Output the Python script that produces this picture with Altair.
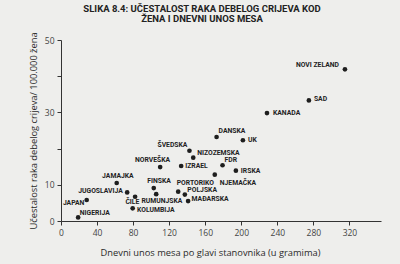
import altair as alt
import pandas as pd

# ---- data ----
countries = ["NOVI ZELAND", "SAD", "KANADA", "DANSKA", "UK", "ŠVEDSKA", "NIZOZEMSKA",
             "NORVEŠKA", "IZRAEL", "FDR", "IRSKA", "NJEMAČKA", "PORTORIKO", "POLJSKA",
             "MAĐARSKA", "FINSKA", "RUMUNJSKA", "KOLUMBIJA", "ČILE", "JUGOSLAVIJA",
             "JAMAJKA", "JAPAN", "NIGERIJA"]
meat = [315, 275, 228.5, 172.6, 201.8, 142.5, 146.7,
        110, 133.3, 179.2, 194, 170.6, 130, 137.4,
        141, 102.9, 105.6, 79.5, 82.2, 73.4,
        61.8, 28.5, 19]
rate = [41.9, 33.3, 29.8, 23.2, 22.3, 19.4, 17.5,
        14.9, 15.2, 15.4, 13.9, 12.8, 8.1, 7.3,
        5.5, 9.1, 7.4, 3.5, 6.7, 7.9,
        10.5, 5.8, 1.0]

x_ticks = [0, 40, 80, 120, 160, 200, 240, 280, 320]
y_ticks = [0, 10, 20, 30, 40, 50]

title_lines = ["SLIKA 8.4: UČESTALOST RAKA DEBELOG CRIJEVA KOD", "ŽENA I DNEVNI UNOS MESA"]
x_title = "Dnevni unos mesa po glavi stanovnika (u gramima)"
y_title = "Učestalost raka debelog crijeva/ 100.000 žena"

# label placement (align, dx, dy) in pixels relative to each dot
label_pos = {
    "NOVI ZELAND": ("right", -6, -4), "SAD": ("left", 5, -1), "KANADA": ("left", 6, 0),
    "DANSKA": ("left", 2, -6), "UK": ("left", 5, 0), "ŠVEDSKA": ("right", -2, -6),
    "NIZOZEMSKA": ("left", 4, -5), "NORVEŠKA": ("right", 10, -7.5), "IZRAEL": ("left", 4, 0),
    "FDR": ("left", 2, -5), "IRSKA": ("left", 5, 0.5), "NJEMAČKA": ("left", 5, 8),
    "PORTORIKO": ("left", -1.5, -9), "POLJSKA": ("left", 2.5, -5), "MAĐARSKA": ("left", 3.5, -2.5),
    "FINSKA": ("left", -6.5, -7), "RUMUNJSKA": ("left", -14.7, 7), "KOLUMBIJA": ("left", 4.4, 1.7),
    "ČILE": ("left", -9.7, 5.4), "JUGOSLAVIJA": ("right", -4.4, -1.3), "JAMAJKA": ("left", -14.6, -7),
    "JAPAN": ("right", -2.3, 3), "NIGERIJA": ("left", 1.7, -4.7),
}

df = pd.DataFrame({"country": countries, "meat": meat, "rate": rate})

W, H = 320, 181
xs = alt.Scale(domain=[0, 355], nice=False, zero=False)
ys = alt.Scale(domain=[0, 50], nice=False)

axis_common = dict(
    grid=False, domainColor="#333333", tickColor="#333333", tickSize=4,
    labelFont="Open Sans", labelFontSize=8.5, labelColor="#444444",
    labelOverlap=False, labelFlush=False, labelBound=False,
    titleFont="Open Sans", titleFontSize=9.3, titleFontWeight="normal", titleColor="#2a2a2a",
)

x_axis = alt.Axis(values=x_ticks, labelPadding=3, title=x_title,
                  titleX=149, titleY=31, titleAlign="center", titleBaseline="middle",
                  **axis_common)
y_axis = alt.Axis(values=y_ticks, labelPadding=3, title=y_title,
                  labelExpr="(datum.value == 20 || datum.value == 40) ? '' : datum.label",
                  titleX=-28, titleY=H / 2, titleAlign="center", titleBaseline="middle",
                  titleAngle=270, **axis_common)

X = alt.X("meat:Q", scale=xs, axis=x_axis)
Y = alt.Y("rate:Q", scale=ys, axis=y_axis)

points = alt.Chart(df).mark_circle(size=22, color="#1e1e1e", opacity=1).encode(x=X, y=Y)

layers = [points]
for c in countries:
    al, dx, dy = label_pos[c]
    layers.append(
        alt.Chart(df).transform_filter(alt.datum.country == c).mark_text(
            font="Roboto", fontWeight="bold", fontSize=6.8, color="#222222",
            align=al, baseline="middle", dx=dx, dy=dy,
        ).encode(x=X, y=Y, text="country:N")
    )

chart = alt.layer(*layers).properties(
    width=W, height=H,
    title=alt.TitleParams(text=title_lines, font="Roboto", fontWeight="bold", fontSize=9.5,
                          color="#222222", anchor="middle", lineHeight=10, offset=8, dx=-19),
    autosize=alt.AutoSizeParams(type="none"),
    padding={"left": 61, "top": 40, "right": 19, "bottom": 43},
    background="#eeeeec",
).configure_view(stroke=None)

chart.save("out.html", embed_options={"renderer": "svg", "actions": False})
